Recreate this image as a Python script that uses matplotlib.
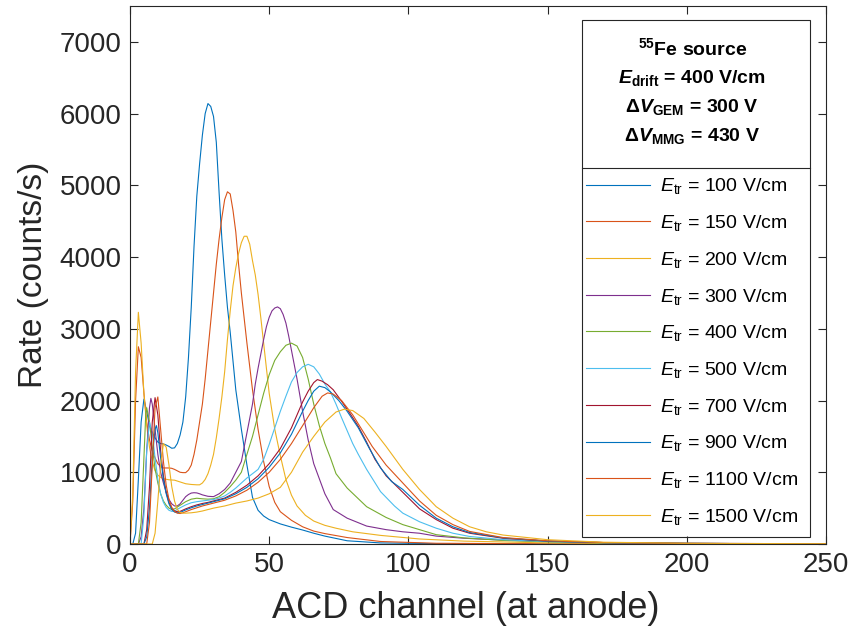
import matplotlib
matplotlib.use("Agg")
import matplotlib.pyplot as plt
from matplotlib.lines import Line2D
from matplotlib.patches import Rectangle

plt.rcParams['font.family'] = 'Liberation Sans'
plt.rcParams['mathtext.fontset'] = 'custom'
plt.rcParams['mathtext.rm'] = 'Liberation Sans'
plt.rcParams['mathtext.it'] = 'Liberation Sans:italic'
plt.rcParams['mathtext.bf'] = 'Liberation Sans:bold'
plt.rcParams['mathtext.bfit'] = 'Liberation Sans:bold:italic'

# spectra: (channel, rate in counts/s)
ch_100 = [0, 1, 2, 3, 4, 5, 6, 7, 8, 9, 10, 11, 12, 13, 14, 15, 16, 17, 18, 19, 20, 21, 22, 23, 24, 25, 26, 27, 28, 29,
          30, 31, 32, 33, 34, 35, 36, 37, 38, 40, 42, 44, 46, 48, 50, 54, 58, 62, 66, 70, 78, 90, 110, 150, 200, 250]
rate_100 = [0, 0, 150, 900, 1700, 2020, 1850, 1650, 1550, 1480, 1420, 1400, 1395, 1380, 1360, 1335, 1340, 1400, 1520, 1700,
            2050, 2600, 3300, 4150, 4850, 5300, 5700, 6000, 6140, 6100, 5960, 5600, 4900, 4250, 3750, 3300, 2950, 2550,
            2150, 1600, 1100, 650, 470, 390, 340, 280, 235, 195, 150, 110, 45, 15, 5, 0, 0, 0]

ch_150 = [0, 1, 2, 3, 4, 5, 6, 7, 8, 9, 10, 11, 12, 13, 14, 15, 16, 17, 18, 19, 20, 21, 22, 23, 24, 25, 26, 27, 28, 29,
          30, 31, 32, 33, 34, 35, 36, 37, 38, 39, 40, 41, 42, 44, 46, 48, 50, 52, 54, 58, 62, 66, 70, 78, 90, 110, 150,
          200, 250]
rate_150 = [0, 600, 2000, 2750, 2600, 2100, 1700, 1450, 1300, 1200, 1120, 1080, 1060, 1060, 1060, 1055, 1040, 1020, 1000,
            995, 995, 1030, 1100, 1250, 1450, 1700, 1950, 2300, 2700, 3100, 3500, 3900, 4250, 4550, 4800, 4910, 4880, 4650,
            4350, 3900, 3500, 3150, 2800, 2150, 1600, 1150, 800, 580, 450, 330, 240, 180, 145, 90, 35, 10, 3, 0, 0]

ch_200 = [0, 1, 2, 3, 4, 5, 6, 7, 8, 9, 10, 11, 12, 14, 16, 18, 20, 22, 24, 25, 26, 27, 28, 29, 30, 31, 32, 33, 34, 35,
          36, 37, 38, 39, 40, 41, 42, 43, 44, 45, 46, 47, 48, 49, 50, 52, 54, 56, 58, 60, 63, 66, 70, 74, 80, 90, 104,
          120, 150, 200, 250]
rate_200 = [0, 700, 2400, 3230, 2800, 2100, 1650, 1350, 1150, 1020, 960, 930, 910, 895, 890, 865, 840, 830, 825, 825, 850,
            900, 980, 1100, 1250, 1480, 1750, 2050, 2400, 2850, 3250, 3600, 3850, 4050, 4200, 4290, 4290, 4180, 3950, 3750,
            3480, 3150, 2800, 2450, 2100, 1600, 1230, 900, 680, 530, 400, 320, 260, 220, 170, 120, 70, 40, 15, 5, 2]

ch_300 = [0, 3, 4, 5, 6, 7, 7.5, 8, 9, 10, 11, 12, 13, 14, 15, 16, 17, 18, 19, 20, 21, 22, 23, 24, 25, 26, 28, 30, 32,
          34, 36, 38, 40, 42, 43, 44, 45, 46, 47, 48, 49, 50, 51, 52, 53, 54, 55, 56, 57, 58, 60, 62, 64, 66, 70, 73, 78,
          85, 92, 98, 104, 110, 120, 134, 150, 170, 200, 250]
rate_300 = [0, 0, 100, 500, 1300, 1900, 2030, 1950, 1600, 1250, 1000, 850, 720, 620, 560, 530, 530, 560, 610, 660, 690, 710,
            715, 712, 700, 685, 665, 660, 700, 760, 850, 1000, 1150, 1550, 1750, 1950, 2230, 2450, 2650, 2850, 3030, 3160,
            3250, 3290, 3305, 3280, 3200, 3080, 2900, 2700, 2300, 1850, 1450, 1120, 700, 480, 360, 250, 200, 170, 150, 110,
            80, 55, 35, 20, 10, 3]

ch_400 = [0, 3, 4, 5, 5.7, 6, 7, 8, 9, 10, 11, 12, 13, 14, 15, 16, 18, 20, 22, 24, 26, 28, 30, 32, 34, 36, 38, 40, 42, 44,
          46, 48, 50, 52, 54, 56, 58, 60, 62, 64, 66, 68, 70, 72, 74, 78, 85, 92, 98, 104, 110, 120, 134, 150, 170, 200,
          250]
rate_400 = [0, 0, 300, 1200, 1850, 1900, 1700, 1350, 1050, 850, 700, 600, 540, 500, 480, 490, 540, 590, 625, 638, 630, 625,
            630, 660, 720, 800, 890, 1000, 1250, 1500, 1800, 2100, 2360, 2560, 2680, 2770, 2800, 2760, 2600, 2300, 1950,
            1650, 1400, 1200, 980, 780, 520, 370, 270, 200, 130, 85, 50, 30, 15, 8, 2]

ch_500 = [0, 4, 5, 6, 7, 8, 9, 10, 11, 12, 13, 14, 15, 16, 18, 20, 22, 24, 26, 28, 30, 32, 34, 36, 38, 40, 42, 44, 46, 48,
          50, 52, 54, 56, 58, 60, 62, 64, 66, 68, 70, 72, 74, 76, 78, 80, 82, 85, 90, 95, 98, 104, 110, 116, 122, 134,
          150, 170, 200, 250]
rate_500 = [0, 0, 400, 1300, 1700, 1550, 1200, 900, 700, 580, 510, 470, 455, 460, 505, 545, 575, 590, 600, 610, 620, 640, 670,
            720, 780, 850, 920, 980, 1040, 1180, 1390, 1620, 1850, 2060, 2260, 2390, 2470, 2505, 2470, 2370, 2230, 2120,
            1950, 1760, 1580, 1400, 1250, 1040, 730, 530, 430, 310, 220, 150, 105, 60, 35, 18, 8, 2]

ch_700 = [0, 5, 6, 7, 8, 9, 10, 11, 12, 13, 14, 15, 16, 17, 18, 20, 22, 24, 26, 28, 30, 34, 38, 42, 46, 50, 54, 58, 60,
          62, 64, 66, 67.3, 69, 71, 73, 76, 79, 82, 85, 88, 92, 98, 104, 110, 116, 122, 134, 150, 170, 200, 250]
rate_700 = [0, 0, 200, 800, 1700, 2040, 1800, 1300, 950, 720, 580, 500, 460, 450, 455, 490, 520, 545, 565, 580, 600, 640, 720,
            820, 950, 1120, 1330, 1620, 1800, 1980, 2130, 2250, 2292, 2270, 2220, 2150, 1990, 1820, 1640, 1420, 1180, 950,
            720, 490, 340, 220, 150, 80, 40, 20, 8, 2]

ch_900 = [0, 5, 6, 7, 8, 9, 9.5, 10, 11, 12, 13, 14, 15, 16, 17, 18, 20, 22, 24, 26, 28, 30, 34, 38, 42, 46, 50, 54, 58,
          62, 64, 66, 68, 70, 72, 75, 78, 82, 86, 90, 94, 98, 104, 110, 116, 122, 134, 150, 170, 200, 250]
rate_900 = [0, 0, 100, 500, 1200, 1600, 1650, 1550, 1200, 900, 700, 560, 480, 445, 435, 440, 475, 505, 530, 550, 570, 590, 630,
            700, 790, 910, 1070, 1270, 1530, 1850, 2000, 2130, 2200, 2180, 2120, 2000, 1850, 1620, 1330, 1060, 870, 760,
            540, 360, 240, 160, 85, 40, 20, 8, 2]

ch_1100 = [0, 6, 7, 8, 9, 10, 11, 12, 13, 14, 15, 16, 17, 18, 19, 20, 22, 24, 26, 28, 30, 34, 38, 42, 46, 50, 54, 58, 62,
           66, 69, 71, 73, 76, 80, 84, 87, 92, 98, 104, 110, 116, 122, 134, 150, 170, 200, 250]
rate_1100 = [0, 0, 300, 1100, 1900, 2050, 1600, 1150, 820, 620, 510, 455, 430, 425, 435, 450, 480, 505, 530, 550, 570, 610,
             670, 750, 860, 1000, 1180, 1400, 1650, 1900, 2060, 2106, 2090, 2000, 1800, 1550, 1360, 1100, 850, 600, 400, 270,
             175, 90, 45, 20, 8, 2]

ch_1500 = [0, 8, 9, 10, 11, 12, 13, 14, 15, 16, 17, 18, 19, 20, 22, 24, 26, 28, 30, 34, 38, 42, 46, 50, 54, 58, 62, 66, 70,
           74, 77, 80, 84, 88, 92, 98, 104, 110, 116, 122, 128, 134, 150, 170, 200, 250]
rate_1500 = [0, 0, 150, 600, 1100, 1400, 1350, 1100, 800, 600, 480, 440, 430, 430, 435, 445, 460, 480, 500, 530, 570, 600,
             640, 700, 790, 1000, 1280, 1500, 1700, 1840, 1880, 1860, 1750, 1560, 1360, 1040, 760, 520, 360, 240, 170, 125,
             60, 25, 10, 3]

fields = ['100', '150', '200', '300', '400', '500', '700', '900', '1100', '1500']
channels = [ch_100, ch_150, ch_200, ch_300, ch_400, ch_500, ch_700, ch_900, ch_1100, ch_1500]
rates = [rate_100, rate_150, rate_200, rate_300, rate_400, rate_500, rate_700, rate_900, rate_1100, rate_1500]
colors = ['#0072BD', '#D95319', '#EDB120', '#7E2F8E', '#77AC30', '#4DBEEE', '#A2142F',
          '#0072BD', '#D95319', '#EDB120']

txt = '#262626'
W, H = 851, 637

fig = plt.figure(figsize=(W / 100, H / 100), dpi=100)
ax = fig.add_axes([130 / W, 93 / H, 696 / W, 538 / H])

for f, x, y, c in zip(fields, channels, rates, colors):
    ax.plot(x, y, color=c, lw=0.8, label=r'$\mathit{E}_{\mathrm{tr}}$ = ' + f + ' V/cm')

ax.set_xlim(0, 250)
ax.set_ylim(0, 7500)
ax.set_xticks(range(0, 251, 50))
ax.set_yticks(range(0, 7001, 1000))
ax.tick_params(direction='in', length=6, width=0.8, colors=txt, labelsize=20,
               top=True, right=True, pad=6)
for s in ax.spines.values():
    s.set_color(txt)
    s.set_linewidth(0.8)
ax.set_xlabel('ACD channel (at anode)', fontsize=26, color=txt)
ax.xaxis.set_label_coords(0.482, -0.088)
ax.set_ylabel('Rate (counts/s)', fontsize=24, color=txt, labelpad=8)

title = (r'$^{\mathbf{55}}$Fe source' + '\n'
         + r'$\mathbfit{E}_{\mathbf{drift}}$ = 400 V/cm' + '\n'
         + r'$\mathbf{\Delta}\mathbfit{V}_{\mathbf{GEM}}$ = 300 V' + '\n'
         + r'$\mathbf{\Delta}\mathbfit{V}_{\mathbf{MMG}}$ = 430 V')
leg = ax.legend(loc='upper right', bbox_to_anchor=(0.9727, 0.958), borderaxespad=0,
                fontsize=14, title=title, title_fontproperties={'weight': 'bold', 'size': 14},
                handlelength=3.3, handletextpad=0.5, labelspacing=0.86,
                borderpad=0.45, frameon=False)
leg.get_title().set_multialignment('center')
leg.get_title().set_linespacing(1.59)
leg._legend_box.sep = 22

# legend frame with a rule between the title block and the entries
fig.add_artist(Rectangle((582 / W, 1 - 537 / H), 228 / W, 517 / H, transform=fig.transFigure,
                         facecolor='none', edgecolor=txt, lw=0.8))
fig.add_artist(Line2D([582 / W, 810 / W], [1 - 168 / H, 1 - 168 / H],
                      color=txt, lw=0.8, transform=fig.transFigure))

fig.savefig('out.png', dpi=100)
